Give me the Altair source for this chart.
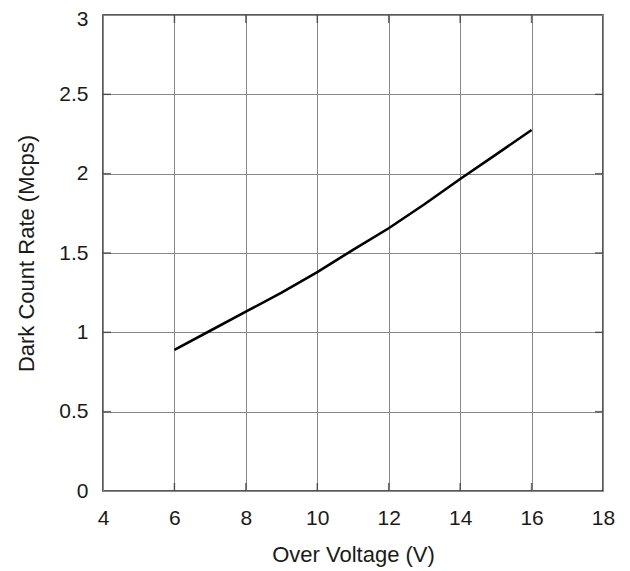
import altair as alt
import pandas as pd

voltage = [6, 7, 8, 9, 10, 11, 12, 13, 14, 15, 16]
dcr = [0.89, 1.01, 1.13, 1.25, 1.38, 1.52, 1.656, 1.807, 1.966, 2.12, 2.275]

x_ticks = [4, 6, 8, 10, 12, 14, 16, 18]
y_ticks = [0, 0.5, 1, 1.5, 2, 2.5, 3]

df = pd.DataFrame({"v": voltage, "dcr": dcr})

FONT = "Liberation Sans"
xs = alt.Scale(domain=[4, 18], nice=False, zero=False)
ys = alt.Scale(domain=[0, 3], nice=False)

common = dict(grid=True, ticks=False, domain=False, gridColor="#888", gridWidth=1,
              labelFont=FONT, labelFontSize=21, labelColor="#1a1a1a", labelFlush=False,
              titleFont=FONT, titleFontSize=22, titleColor="#1a1a1a", titleFontWeight="normal")
xaxis = alt.Axis(values=x_ticks, labelPadding=16, titlePadding=16, format="d", **common)
yaxis = alt.Axis(values=y_ticks, labelPadding=15, titlePadding=20, format="~g",
                 labelOffset={"condition": {"test": "datum.value == 3", "value": 4}, "value": 0},
                 **common)
XT = "Over Voltage (V)"
YT = "Dark Count Rate (Mcps)"

line = alt.Chart(df).mark_line(color="black", strokeWidth=2.6).encode(
    x=alt.X("v:Q", scale=xs, title=XT, axis=xaxis),
    y=alt.Y("dcr:Q", scale=ys, title=YT, axis=yaxis),
)

yt = pd.DataFrame({"y": y_ticks[1:-1] * 2, "x": [4] * 5 + [18] * 5,
                   "side": ["l"] * 5 + ["r"] * 5})
xt = pd.DataFrame({"x": x_ticks[1:-1] * 2, "y": [0] * 6 + [3] * 6,
                   "side": ["b"] * 6 + ["t"] * 6})

def ticks(data, orient, **off):
    return alt.Chart(data).mark_tick(orient=orient, size=8, thickness=1.5,
                                     color="#333", **off).encode(
        x=alt.X("x:Q", scale=xs, title=XT, axis=xaxis),
        y=alt.Y("y:Q", scale=ys, title=YT, axis=yaxis))

ytl = ticks(yt[yt.side == "l"], "horizontal", xOffset=4)
ytr = ticks(yt[yt.side == "r"], "horizontal", xOffset=-4)
xtb = ticks(xt[xt.side == "b"], "vertical", yOffset=-4)
xtt = ticks(xt[xt.side == "t"], "vertical", yOffset=4)

chart = alt.layer(line, ytl, ytr, xtb, xtt).properties(
    width=500, height=476,
    autosize=alt.AutoSizeParams(type="none"),
    padding={"left": 95, "top": 7, "right": 15, "bottom": 90},
).configure_view(
    stroke="#222", strokeWidth=1.5
)

chart.save("out.html", embed_options={"renderer": "svg", "actions": False})
